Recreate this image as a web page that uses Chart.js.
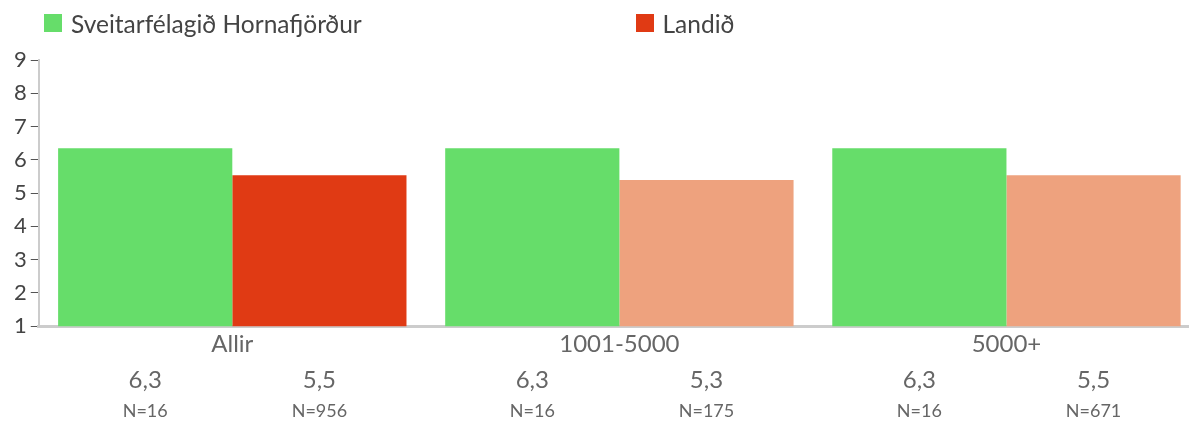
<!DOCTYPE html>
<html>
<head>
<meta charset="utf-8">
<script src="https://cdn.jsdelivr.net/npm/chart.js@4"></script>
<style>
  html, body { margin: 0; padding: 0; background: #fff; overflow: hidden; }
  #wrap { position: relative; width: 1200px; height: 421px; }
  #legend { position: absolute; left: 0; top: 0; width: 1189px; display: flex; font-family: Lato, "Open Sans", sans-serif; font-size: 24.5px; color: #444; }
  .item { width: 50%; display: flex; align-items: center; height: 46px; }
  .item span.box { width: 18px; height: 18px; margin-right: 9px; display: inline-block; }
</style>
</head>
<body>
<div id="wrap">
  <div id="legend"></div>
  <canvas id="chart" width="1200" height="421"></canvas>
</div>
<script>
const categories = ['Allir', '1001-5000', '5000+'];
const seriesNames = ['Sveitarfélagið Hornafjörður', 'Landið'];
const hornafjordur = [6.35, 6.35, 6.35];
const landid = [5.54, 5.39, 5.54];
const nHornafjordur = [16, 16, 16];
const nLandid = [956, 175, 671];
const yTicks = [1, 2, 3, 4, 5, 6, 7, 8, 9];

const green = '#66DD6A';
const red = '#E03A14';
const salmon = '#EEA27E';

// legend built by hand: two fixed columns
const legendEl = document.getElementById('legend');
[[seriesNames[0], green, 44], [seriesNames[1], red, 38]].forEach(([name, col, pad]) => {
    const div = document.createElement('div');
    div.className = 'item';
    div.style.paddingLeft = pad + 'px';
    div.innerHTML = '<span class="box" style="background:' + col + '"></span>' + name;
    legendEl.appendChild(div);
});

const fmt = v => (Math.floor(v * 10 + 1e-6) / 10).toFixed(1).replace('.', ',');

const belowLabels = {
    id: 'belowLabels',
    afterDatasetsDraw(chart) {
        const ctx = chart.ctx;
        const bottom = chart.chartArea.bottom;
        const nLists = [nHornafjordur, nLandid];
        ctx.save();
        ctx.textAlign = 'center';
        ctx.textBaseline = 'middle';
        ctx.fillStyle = '#666';
        chart.data.datasets.forEach((ds, i) => {
            chart.getDatasetMeta(i).data.forEach((bar, j) => {
                ctx.font = '24px Lato, "Open Sans", sans-serif';
                ctx.fillText(fmt(ds.data[j]), bar.x, bottom + 54);
                ctx.font = '18px Lato, "Open Sans", sans-serif';
                ctx.fillText('N=' + nLists[i][j], bar.x, bottom + 85);
            });
        });
        ctx.restore();
    }
};

new Chart(document.getElementById('chart'), {
    type: 'bar',
    data: {
        labels: categories,
        datasets: [
            { label: seriesNames[0], data: hornafjordur, backgroundColor: green },
            { label: seriesNames[1], data: landid, backgroundColor: [red, salmon, salmon] }
        ]
    },
    options: {
        responsive: false,
        animation: false,
        layout: { padding: { top: 60, bottom: 66, left: 10, right: 0 } },
        datasets: { bar: { categoryPercentage: 0.9, barPercentage: 1.0 } },
        plugins: { legend: { display: false }, tooltip: { enabled: false } },
        scales: {
            x: {
                grid: { display: false },
                border: { display: true, color: '#ccc', width: 3 },
                ticks: { color: '#666', padding: -4, font: { family: 'Lato', size: 24 } }
            },
            y: {
                min: 1,
                max: 9,
                afterBuildTicks: axis => { axis.ticks = yTicks.map(v => ({ value: v })); },
                grid: { drawOnChartArea: false, tickLength: 8, tickColor: '#555', tickWidth: 1 },
                border: { display: true, color: '#ccc', width: 2 },
                ticks: { color: '#444', padding: 4, font: { family: 'Lato', size: 22 } }
            }
        }
    },
    plugins: [belowLabels]
});
</script>
</body>
</html>
